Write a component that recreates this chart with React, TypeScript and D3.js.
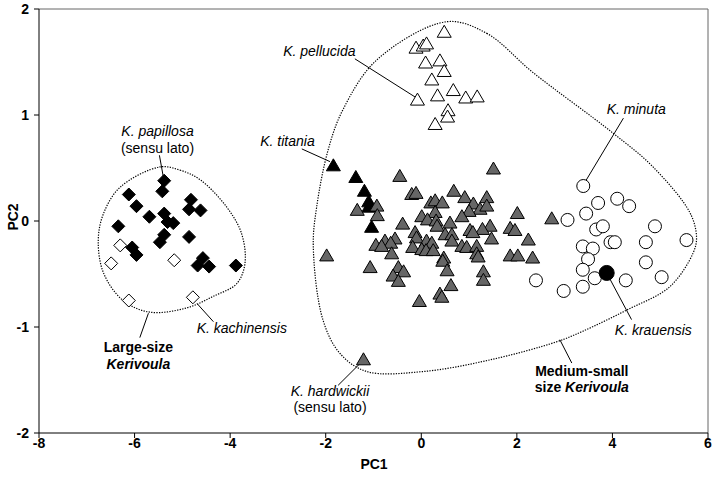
import React from 'react';
import * as d3 from 'd3';

type Pt = [number, number];

// K. papillosa (filled diamonds)
const papillosa: Pt[] = [
  [-5.38, 0.38], [-5.42, 0.28], [-6.12, 0.25], [-5.96, 0.14], [-4.82, 0.2],
  [-4.86, 0.11], [-4.62, 0.1], [-5.69, 0.04], [-5.38, 0.07], [-5.31, -0.01],
  [-5.19, -0.02], [-6.34, -0.05], [-5.38, -0.13], [-5.47, -0.2], [-4.86, -0.15],
  [-6.05, -0.25], [-5.96, -0.32], [-4.57, -0.35], [-4.68, -0.42], [-4.44, -0.43],
  [-3.88, -0.42],
];

// K. kachinensis (open diamonds)
const kachinensis: Pt[] = [
  [-6.3, -0.23], [-6.49, -0.4], [-5.17, -0.37], [-6.12, -0.75], [-4.78, -0.72],
];

// K. hardwickii (grey triangles)
const hardwickii: Pt[] = [
  [-0.45, 0.43], [1.51, 0.5], [-0.2, 0.26], [-0.11, 0.27], [0.68, 0.29],
  [0.91, 0.23], [1.37, 0.23], [1.09, 0.17], [0.2, 0.18], [0.29, 0.2],
  [0.44, 0.18], [-0.93, 0.15], [-1.34, 0.11], [-0.92, 0.06], [1.23, 0.12],
  [1.37, 0.15], [1.0, 0.1], [0.85, 0.05], [0.29, 0.09], [0.01, 0.05],
  [0.13, 0.02], [0.31, 0.01], [0.6, -0.01], [2.01, 0.08], [-0.39, -0.02],
  [0.33, -0.04], [1.44, -0.04], [1.28, -0.07], [1.02, -0.08], [1.08, -0.1],
  [1.86, -0.06], [1.96, -0.08], [0.5, -0.12], [0.64, -0.12], [-0.13, -0.1],
  [-0.1, -0.15], [1.47, -0.16], [2.24, -0.17], [-0.55, -0.16], [-0.76, -0.18],
  [-0.64, -0.2], [-0.95, -0.22], [-0.83, -0.23], [0.11, -0.18], [0.22, -0.2],
  [0.64, -0.18], [0.85, -0.23], [0.95, -0.24], [1.16, -0.23], [-0.18, -0.24],
  [0.01, -0.26], [0.1, -0.27], [0.25, -0.27], [1.16, -0.3], [1.19, -0.33],
  [-0.62, -0.3], [0.47, -0.34], [0.45, -0.37], [-1.98, -0.32], [1.86, -0.32],
  [2.02, -0.32], [2.33, -0.34], [-1.07, -0.43], [-0.48, -0.43], [-0.37, -0.47],
  [-0.59, -0.51], [0.54, -0.46], [1.3, -0.47], [1.3, -0.55], [-0.48, -0.56],
  [0.62, -0.6], [0.39, -0.68], [0.43, -0.71], [-0.04, -0.75], [2.73, 0.03],
  [-1.21, -1.3],
];

// K. titania (black triangles)
const titania: Pt[] = [
  [-1.84, 0.53], [-1.37, 0.42], [-1.19, 0.29], [-1.1, 0.19], [-1.1, 0.14], [-1.04, -0.05],
];

// K. pellucida (open triangles)
const pellucida: Pt[] = [
  [0.48, 1.79], [-0.11, 1.64], [0.04, 1.66], [0.11, 1.68], [0.09, 1.5],
  [0.39, 1.52], [0.48, 1.42], [0.22, 1.34], [0.67, 1.24], [0.34, 1.19],
  [-0.08, 1.15], [0.93, 1.17], [1.17, 1.18], [0.56, 1.05], [0.55, 0.99],
  [0.29, 0.92],
];

// K. minuta (open circles)
const minuta: Pt[] = [
  [3.39, 0.33], [3.7, 0.17], [4.1, 0.21], [4.35, 0.14], [3.45, 0.07],
  [3.06, 0.01], [3.66, -0.08], [3.8, -0.05], [4.89, -0.05], [3.38, -0.24],
  [3.59, -0.26], [3.96, -0.2], [4.05, -0.2], [4.7, -0.2], [5.55, -0.18],
  [3.49, -0.36], [3.38, -0.46], [4.7, -0.39], [3.63, -0.54], [4.28, -0.56],
  [5.03, -0.53], [2.4, -0.56], [3.38, -0.62], [2.98, -0.66],
];

// K. krauensis (filled circle)
const krauensis: Pt[] = [[3.88, -0.49]];

// outlines of the two groups
const largeHull: Pt[] = [
  [-5.47, 0.51], [-5.05, 0.48], [-4.63, 0.39], [-4.07, 0.13], [-3.76, -0.12],
  [-3.69, -0.4], [-3.86, -0.59], [-4.35, -0.71], [-4.91, -0.82], [-5.68, -0.86],
  [-6.24, -0.75], [-6.65, -0.49], [-6.76, -0.18], [-6.65, 0.07], [-6.3, 0.32],
];
const mediumHull: Pt[] = [
  [0.53, 1.88], [1.37, 1.77], [2.34, 1.4], [4.01, 0.83], [4.85, 0.51],
  [5.62, 0.08], [5.76, -0.15], [5.69, -0.3], [5.2, -0.62], [4.3, -0.84],
  [3.38, -1.04], [2.83, -1.14], [1.44, -1.31], [0.04, -1.42], [-1.14, -1.42],
  [-1.7, -1.25], [-2.06, -0.93], [-2.26, -0.24], [-2.19, 0.13], [-1.95, 0.67],
  [-1.64, 1.05], [-0.93, 1.52],
];

const xTicks = [-8, -6, -4, -2, 0, 2, 4, 6];
const yTicks = [-2, -1, 0, 1, 2];

// annotation text, anchored in data units, with its leader line
type Label = { at: Pt; anchor: string; lines: { t: React.ReactNode; bold?: boolean; italic?: boolean }[]; leader: [Pt, Pt] };

const labels: Label[] = [
  { at: [-2.89, 1.56], anchor: 'start', lines: [{ t: 'K. pellucida', italic: true }], leader: [[-1.39, 1.53], [-0.13, 1.17]] },
  { at: [-2.23, 0.71], anchor: 'end', lines: [{ t: 'K. titania', italic: true }], leader: [[-2.5, 0.68], [-1.91, 0.56]] },
  { at: [-5.52, 0.8], anchor: 'middle', lines: [{ t: 'K. papillosa', italic: true }, { t: '(sensu lato)' }], leader: [[-5.48, 0.62], [-5.4, 0.42]] },
  { at: [-4.7, -1.06], anchor: 'start', lines: [{ t: 'K. kachinensis', italic: true }], leader: [[-4.69, -0.78], [-4.35, -0.95]] },
  { at: [-5.92, -1.24], anchor: 'middle', lines: [{ t: 'Large-size', bold: true }, { t: 'Kerivoula', bold: true, italic: true }], leader: [[-5.71, -0.87], [-5.89, -1.1]] },
  { at: [-1.91, -1.65], anchor: 'middle', lines: [{ t: 'K. hardwickii', italic: true }, { t: '(sensu lato)' }], leader: [[-1.25, -1.33], [-1.74, -1.55]] },
  { at: [3.36, -1.46], anchor: 'middle', lines: [{ t: 'Medium-small', bold: true }, { t: <>size <tspan fontStyle="italic">Kerivoula</tspan></>, bold: true }], leader: [[2.9, -1.12], [3.15, -1.34]] },
  { at: [3.88, 1.01], anchor: 'start', lines: [{ t: 'K. minuta', italic: true }], leader: [[4.23, 0.97], [3.43, 0.37]] },
  { at: [4.05, -1.08], anchor: 'start', lines: [{ t: 'K. krauensis', italic: true }], leader: [[3.88, -0.49], [4.4, -0.93]] },
];

const W = 713;
const H = 481;
const font = '"Liberation Sans", Arial, sans-serif';

const x = d3.scaleLinear().domain([-8, 6]).range([39, 708]);
const y = d3.scaleLinear().domain([-2, 2]).range([433, 9]);

const hullLine = d3
  .line<Pt>()
  .x((d) => x(d[0]))
  .y((d) => y(d[1]))
  .curve(d3.curveCatmullRomClosed.alpha(0.5));

const tri = 'M0,-6L7,6L-7,6Z';
const dia = 'M0,-6.5L6.5,0L0,6.5L-6.5,0Z';

const App: React.FC = () => {
  const markers = (pts: Pt[], path: string, fill: string, key: string) =>
    pts.map((d, i) => (
      <path key={key + i} d={path} transform={`translate(${x(d[0])},${y(d[1])})`} fill={fill} stroke="#000" strokeWidth={1} />
    ));

  return (
    <div style={{ position: 'absolute', left: 0, top: 0 }}>
      <svg width={W} height={H} viewBox={`0 0 ${W} ${H}`} style={{ display: 'block', background: '#fff' }} fontFamily={font}>
        {/* frame */}
        <line x1={x(-8)} x2={x(6)} y1={y(2)} y2={y(2)} stroke="#666" />
        <line x1={x(6)} x2={x(6)} y1={y(2)} y2={y(-2)} stroke="#666" />
        <line x1={x(-8)} x2={x(6)} y1={y(-2)} y2={y(-2)} stroke="#000" />
        <line x1={x(-8)} x2={x(-8)} y1={y(2)} y2={y(-2)} stroke="#000" />

        {xTicks.map((t) => (
          <g key={'x' + t} transform={`translate(${x(t)},${y(-2)})`}>
            <line y2={5} stroke="#000" />
            <text y={15} textAnchor="middle" fontSize={14} fontWeight="bold">{t}</text>
          </g>
        ))}
        {yTicks.map((t) => (
          <g key={'y' + t} transform={`translate(${x(-8)},${y(t)})`}>
            <line x2={-5} stroke="#000" />
            <text x={-10} dy="0.35em" textAnchor="end" fontSize={14} fontWeight="bold">{t}</text>
          </g>
        ))}
        <text x={374} y={469} textAnchor="middle" fontSize={14} fontWeight="bold">PC1</text>
        <text transform={`translate(18,217) rotate(-90)`} textAnchor="middle" fontSize={14} fontWeight="bold">PC2</text>

        {/* group outlines */}
        <path d={hullLine(largeHull) || ''} fill="none" stroke="#000" strokeWidth={1.2} strokeDasharray="1.3,1.3" />
        <path d={hullLine(mediumHull) || ''} fill="none" stroke="#000" strokeWidth={1.2} strokeDasharray="1.3,1.3" />

        {/* leaders */}
        {labels.map((l, i) => (
          <line key={'ld' + i} x1={x(l.leader[0][0])} y1={y(l.leader[0][1])} x2={x(l.leader[1][0])} y2={y(l.leader[1][1])} stroke="#000" strokeWidth={1} />
        ))}

        {markers(titania, tri, '#000', 'ti')}
        {markers(hardwickii, tri, '#666', 'ha')}
        {markers(pellucida, tri, '#fff', 'pe')}
        {markers(papillosa, dia, '#000', 'pa')}
        {markers(kachinensis, dia, '#fff', 'ka')}
        {minuta.map((d, i) => (
          <circle key={'mi' + i} cx={x(d[0])} cy={y(d[1])} r={6.5} fill="#fff" stroke="#000" strokeWidth={1} />
        ))}
        {krauensis.map((d, i) => (
          <circle key={'kr' + i} cx={x(d[0])} cy={y(d[1])} r={7.5} fill="#000" stroke="#000" />
        ))}

        {/* labels */}
        {labels.map((l, i) => (
          <text key={'lb' + i} x={x(l.at[0])} y={y(l.at[1])} textAnchor={l.anchor} fontSize={14}>
            {l.lines.map((ln, j) => (
              <tspan key={j} x={x(l.at[0])} dy={j === 0 ? 0 : 16.5} fontWeight={ln.bold ? 'bold' : 'normal'} fontStyle={ln.italic ? 'italic' : 'normal'}>
                {ln.t}
              </tspan>
            ))}
          </text>
        ))}
      </svg>
    </div>
  );
};

export default App;
